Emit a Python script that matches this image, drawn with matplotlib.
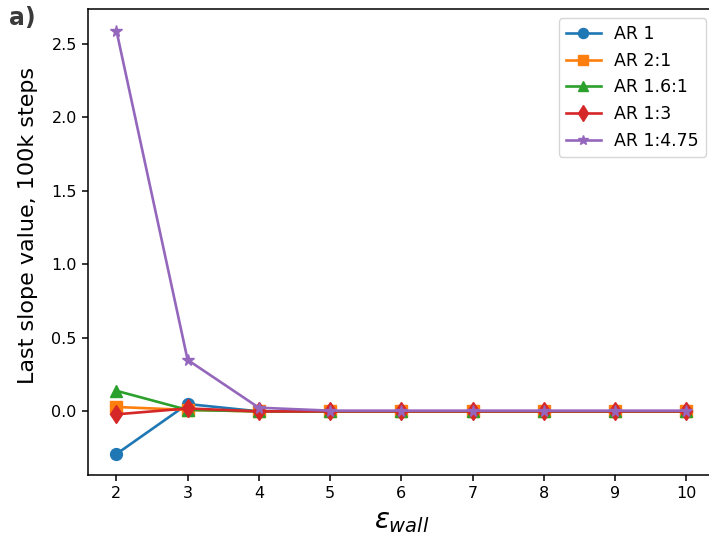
import numpy as np
import matplotlib.pyplot as plt

eps_wall = [2, 3, 4, 5, 6, 7, 8, 9, 10]
ar_1 = [-0.29, 0.05, 0.0, 0.0, 0.0, 0.0, 0.0, 0.0, 0.0]
ar_2_1 = [0.03, 0.01, 0.0, 0.0, 0.0, 0.0, 0.0, 0.0, 0.0]
ar_16_1 = [0.14, 0.01, 0.0, 0.0, 0.0, 0.0, 0.0, 0.0, 0.0]
ar_1_3 = [-0.02, 0.02, 0.0, 0.0, 0.0, 0.0, 0.0, 0.0, 0.0]
ar_1_475 = [2.59, 0.35, 0.025, 0.005, 0.005, 0.005, 0.005, 0.005, 0.005]

fig = plt.figure(figsize=(7.09, 5.5), dpi=100)
ax = fig.add_axes([0.124, 0.136, 0.884, 0.847])

kw = dict(lw=1.9)
ax.plot(eps_wall, ar_1, marker="o", ms=8.5, label="AR 1", **kw)
ax.plot(eps_wall, ar_2_1, marker="s", ms=8, label="AR 2:1", **kw)
ax.plot(eps_wall, ar_16_1, marker="^", ms=8.5, label="AR 1.6:1", **kw)
ax.plot(eps_wall, ar_1_3, marker="d", ms=9.5, label="AR 1:3", **kw)
ax.plot(eps_wall, ar_1_475, marker="*", ms=8.5, label="AR 1:4.75", **kw)

ax.tick_params(labelsize=11.5, width=1.1, length=4.5)
for s in ax.spines.values():
    s.set_linewidth(1.1)
ax.set_xlabel(r"$\varepsilon_{wall}$", fontsize=20)
ax.set_ylabel("Last slope value, 100k steps", fontsize=16)
ax.yaxis.set_label_coords(-0.08, 0.536)
ax.legend(loc="upper right", fontsize=12.5, markerscale=0.85)

fig.text(0.012, 0.955, "a)", fontsize=17, fontweight="bold", color="#3a3a3a")

fig.savefig("out.png", dpi=100)
